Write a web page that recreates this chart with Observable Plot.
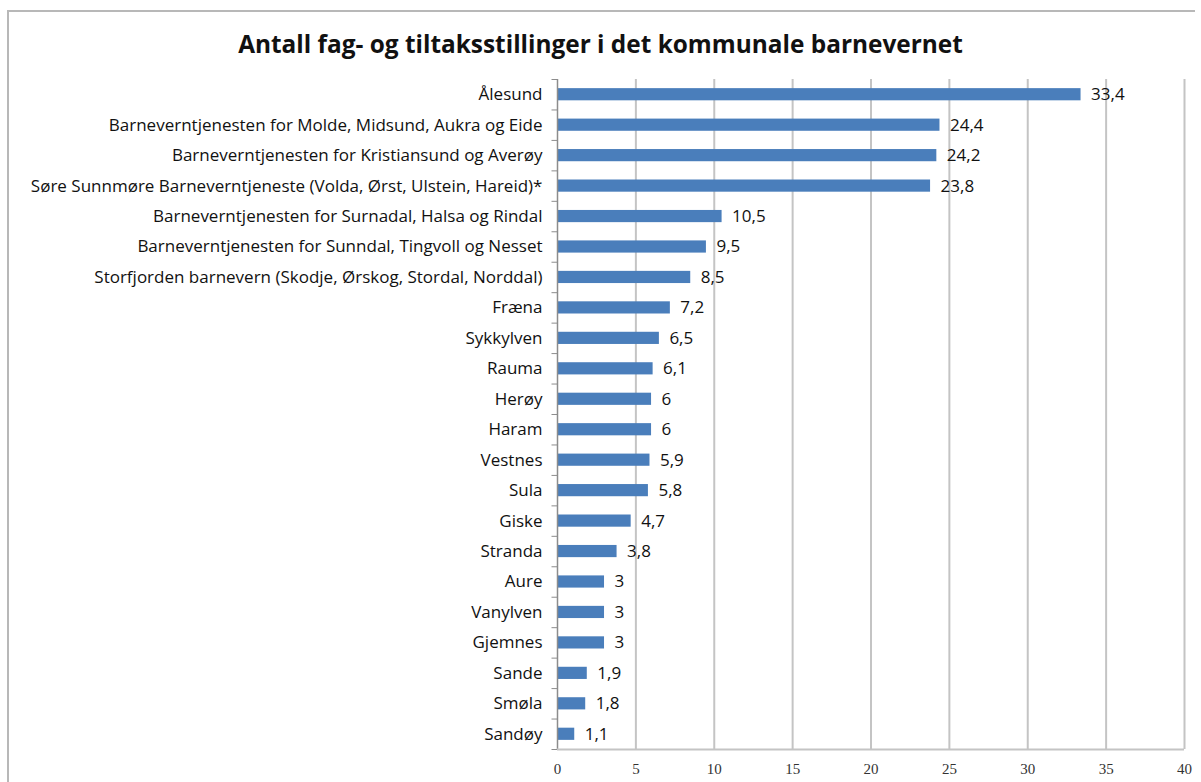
<!DOCTYPE html>
<html>
<head>
<meta charset="utf-8">
<script src="https://cdn.jsdelivr.net/npm/d3@7"></script>
<script src="https://cdn.jsdelivr.net/npm/@observablehq/plot@0.6"></script>
<style>
  html, body { margin: 0; padding: 0; background: #fff; }
  #frame { position: absolute; left: 7px; top: 10px; width: 1188px; height: 772px; border: 2px solid #b8b8b8; border-right: none; border-bottom: none; box-sizing: border-box; }
  #title { position: absolute; left: 0; top: 27px; width: 1201px; text-align: center; font-family: "Open Sans", sans-serif; font-weight: bold; font-size: 24.4px; color: #111; }
  #chart { position: absolute; left: 0; top: 60px; }
</style>
</head>
<body>
<div id="frame"></div>
<div id="title">Antall fag- og tiltaksstillinger i det kommunale barnevernet</div>
<div id="chart"></div>
<script>
const categories = [
  "Ålesund",
  "Barneverntjenesten for Molde, Midsund, Aukra og Eide",
  "Barneverntjenesten for Kristiansund og Averøy",
  "Søre Sunnmøre Barneverntjeneste (Volda, Ørst, Ulstein, Hareid)*",
  "Barneverntjenesten for Surnadal, Halsa og Rindal",
  "Barneverntjenesten for Sunndal, Tingvoll og Nesset",
  "Storfjorden barnevern (Skodje, Ørskog, Stordal, Norddal)",
  "Fræna",
  "Sykkylven",
  "Rauma",
  "Herøy",
  "Haram",
  "Vestnes",
  "Sula",
  "Giske",
  "Stranda",
  "Aure",
  "Vanylven",
  "Gjemnes",
  "Sande",
  "Smøla",
  "Sandøy"
];
const values = [33.4, 24.4, 24.2, 23.8, 10.5, 9.5, 8.5, 7.2, 6.5, 6.1, 6, 6, 5.9, 5.8, 4.7, 3.8, 3, 3, 3, 1.9, 1.8, 1.1];
const xTicks = [0, 5, 10, 15, 20, 25, 30, 35, 40];

const data = categories.map((c, i) => ({name: c, value: values[i]}));
const fmt = v => String(v).replace(".", ",");

const W = 1201, H = 720, mT = 19, mB = 31;
const step = (H - mT - mB) / categories.length;

const chart = Plot.plot({
  width: W,
  height: H,
  marginLeft: 557,
  marginRight: 17,
  marginTop: mT,
  marginBottom: mB,
  style: {fontFamily: "'Open Sans', sans-serif", fontSize: "17px", color: "#111", background: "transparent"},
  x: {domain: [0, 40], ticks: xTicks, label: null},
  y: {domain: categories, label: null, paddingInner: 0.6, paddingOuter: 0.3, round: false},
  marks: [
    Plot.gridX(xTicks.filter(d => d > 0), {stroke: "#c4c4c4", strokeWidth: 2, strokeOpacity: 1}),
    Plot.barX(data, {y: "name", x: "value", fill: "#4a7ebb"}),
    Plot.ruleX([0], {stroke: "#8c8c8c", strokeWidth: 1.5}),
    Plot.ruleY([categories[categories.length - 1]], {x1: 0, x2: 40, stroke: "#c4c4c4", strokeWidth: 2, dy: step / 2}),
    Plot.ruleY(categories, {x1: -0.35, x2: 0, stroke: "#8c8c8c", dy: -step / 2}),
    Plot.ruleY([categories[categories.length - 1]], {x1: -0.35, x2: 0, stroke: "#8c8c8c", dy: step / 2}),
    Plot.text(data, {y: "name", x: "value", text: d => fmt(d.value), dx: 10, textAnchor: "start", fontSize: 17, fill: "#111"}),
    Plot.axisY({tickSize: 0, tickPadding: 15, fontSize: 17, label: null}),
    Plot.axisX(xTicks, {tickSize: 0, tickPadding: 14, fontSize: 15, fontFamily: "'Liberation Serif', serif", fill: "#333", label: null})
  ]
});
document.getElementById("chart").appendChild(chart);
</script>
</body>
</html>
